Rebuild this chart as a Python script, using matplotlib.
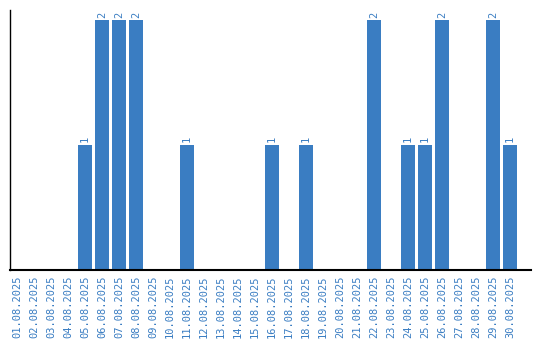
import matplotlib
matplotlib.use("Agg")
import matplotlib.pyplot as plt

dates = [f"{d:02d}.08.2025" for d in range(1, 31)]
values = [0, 0, 0, 0, 1, 2, 2, 2, 0, 0,
          1, 0, 0, 0, 0, 1, 0, 1, 0, 0,
          0, 2, 0, 1, 1, 2, 0, 0, 2, 1]

blue = "#3a7dc2"
fig = plt.figure(figsize=(5.4, 3.4), dpi=100)
ax = fig.add_axes([10/540, 1-270/340, 521/540, 260/340])
x = list(range(len(dates)))
ax.bar(x, values, width=14/17, color=blue)
for xi, v in zip(x, values):
    if v > 0:
        ax.text(xi, v + 0.02, str(v), rotation=90, ha="center", va="bottom",
                color=blue, fontsize=7.5, family="DejaVu Sans Mono")
ax.set_xlim(-0.41, 29 + 21/17)
ax.set_ylim(0, 2.08)
ax.set_xticks(x)
ax.set_xticklabels(dates, rotation=90, color=blue, fontsize=7.5, family="DejaVu Sans Mono")
ax.tick_params(axis="x", length=0, pad=4)
ax.set_yticks([])
for s in ["top", "right"]:
    ax.spines[s].set_visible(False)
ax.spines["left"].set_linewidth(1)
ax.spines["bottom"].set_linewidth(1.5)
fig.savefig("out.png", dpi=100)
